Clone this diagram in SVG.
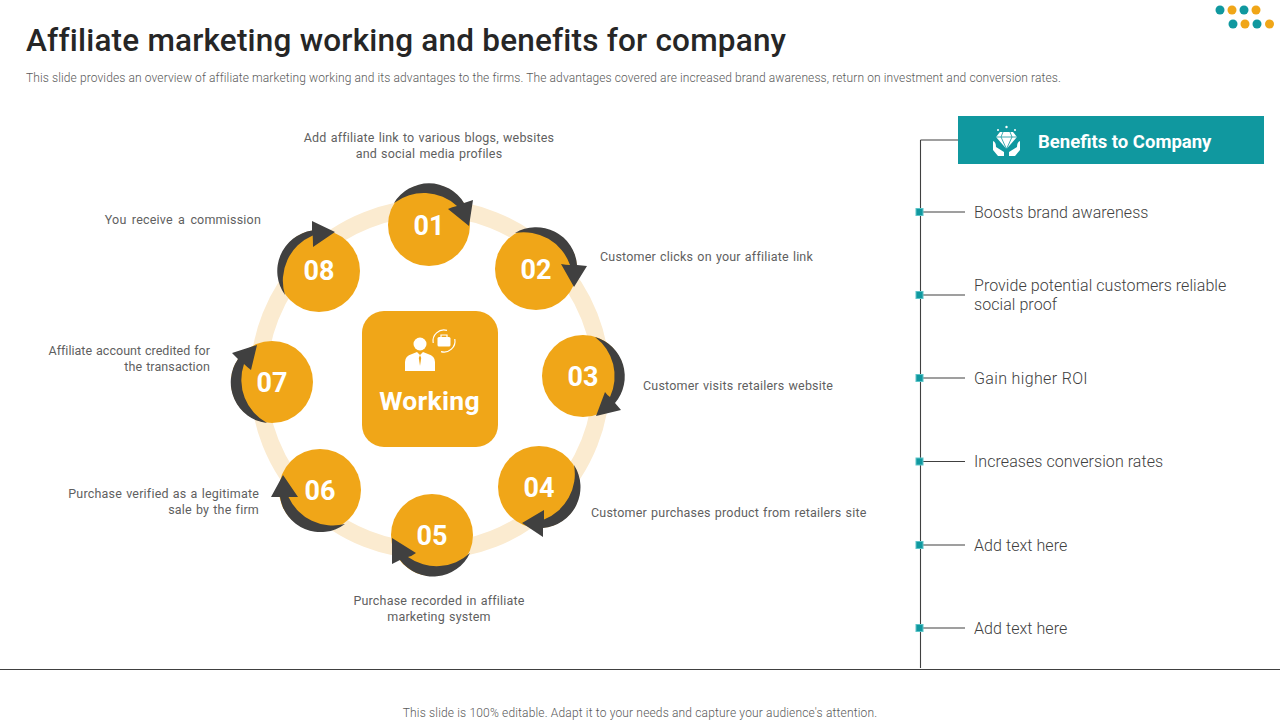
<svg xmlns="http://www.w3.org/2000/svg" width="1280" height="720" viewBox="0 0 1280 720">
<style>
text{font-family:Roboto,"Liberation Sans",sans-serif}
.t{font-size:12.5px;fill:#5f5f5f;letter-spacing:.2px;word-spacing:.8px}
.m{text-anchor:middle}.e{text-anchor:end}
.b{font-size:16px;font-weight:300;fill:#404040;letter-spacing:.06px}
.n{font-size:27px;font-weight:700;fill:#fff;text-anchor:middle}
.c{fill:#F0A618}.d{fill:#404040}
.l{stroke:#404040;stroke-width:1.1;fill:none}
.s{fill:#10989F;stroke:#5CC4C8;stroke-width:1}
.w{fill:#fff}
.o{fill:none;stroke:#fff;stroke-width:1.2}
</style>
<rect width="1280" height="720" fill="#fff"/>
<text x="26" y="51" font-size="31.5" font-weight="500" fill="#262626" letter-spacing=".2" id="title">Affiliate marketing working and benefits for company</text>
<text x="26" y="82" font-size="12" font-weight="300" fill="#595959" letter-spacing=".11" id="subtitle">This slide provides an overview of affiliate marketing working and its advantages to the firms. The advantages covered are increased brand awareness, return on investment and conversion rates.</text>
<g id="logo">
<circle cx="1220" cy="10" r="4.5" fill="#10989F"/><circle cx="1232" cy="10" r="4.5" fill="#F0A618"/><circle cx="1244" cy="10" r="4.5" fill="#10989F"/><circle cx="1256" cy="10" r="4.5" fill="#F0A618"/>
<circle cx="1233" cy="24" r="4.5" fill="#10989F"/><circle cx="1245" cy="24" r="4.5" fill="#F0A618"/><circle cx="1257" cy="24" r="4.5" fill="#10989F"/><circle cx="1269.500" cy="24" r="4.5" fill="#F0A618"/>
</g>
<circle id="ring" cx="430" cy="379.500" r="171.500" fill="none" stroke="#FBEBD0" stroke-width="17"/>
<g id="center"><rect x="362" y="311" width="136" height="136" rx="22" class="c"/>
<circle cx="420" cy="344" r="6.5" class="w"/>
<path class="w" d="M405 371V362Q405 356 412 354L417 352L420 355L423 352L428 354Q435 356 435 362V371Z"/>
<path d="M420 355L418.800 358L420 366L421.200 358Z" class="c"/>
<rect x="437.500" y="337" width="13" height="9.500" rx="1.500" class="w"/><path d="M441 337V335H447V337" class="o"/>
<path d="M433.200 343A11 11 0 0 1 447 330.400M454.800 339A11 11 0 0 1 441 351.600" class="o"/>
<text x="429.500" y="410" font-size="26.500" font-weight="700" fill="#fff" text-anchor="middle" letter-spacing=".3">Working</text></g>
<g id="node01"><circle cx="429" cy="225" r="41" class="c"/><path class="d" d="M394 203A41 41 0 0 1 464 203L473 200L469 226L448 209Q452 207 457 206A49 49 0 0 0 394 203Z"/><text x="429" y="235" class="n">01</text></g>
<g id="node02"><circle cx="536" cy="269" r="41" class="c"/><path class="d" d="M515 233A41 41 0 0 1 577 265L587 266L574 287L561 264Q566 265 570 265A49 49 0 0 0 515 233Z"/><text x="536" y="279" class="n">02</text></g>
<g id="node03"><circle cx="583" cy="376" r="41" class="c"/><path class="d" d="M595 337A41 41 0 0 1 615 403L621 410L596 416L605 392Q607 395 610 397A49 49 0 0 0 595 337Z"/><text x="583" y="386" class="n">03</text></g>
<g id="node04"><circle cx="539" cy="487" r="41" class="c"/><path class="d" d="M574 465A41 41 0 0 1 543 528L543 537L522 523L544 510Q544 515 544 519.500A49 49 0 0 0 574 465Z"/><text x="539" y="497" class="n">04</text></g>
<g id="node05"><circle cx="432" cy="535" r="41" class="c"/><path class="d" d="M470 553A41 41 0 0 1 400 560L392 564L392 538L416 553Q412 556 408 557A49 49 0 0 0 470 553Z"/><text x="432" y="545" class="n">05</text></g>
<g id="node06"><circle cx="320" cy="490" r="41" class="c"/><path class="d" d="M345 524A41 41 0 0 1 280 497L271 497L283 475L298 497Q293 497 288.500 497A49 49 0 0 0 345 524Z"/><text x="320" y="500" class="n">06</text></g>
<g id="node07"><circle cx="272" cy="382" r="41" class="c"/><path class="d" d="M267 423A41 41 0 0 1 238 359L232 353L257 345L251 370Q247 367 244 364A49 49 0 0 0 267 423Z"/><text x="272" y="392" class="n">07</text></g>
<g id="node08"><circle cx="319" cy="271" r="41" class="c"/><path class="d" d="M285 295A41 41 0 0 1 312 230.500L312 221L335 232L313 247Q313 241 312.700 235.500A49 49 0 0 0 285 295Z"/><text x="319" y="280" class="n">08</text></g>
<g id="labels">
<text class="t m" x="429" y="142">Add affiliate link to various blogs, websites</text>
<text class="t m" x="429" y="158">and social media profiles</text>
<text class="t" x="600" y="261">Customer clicks on your affiliate link</text>
<text class="t" x="643" y="390">Customer visits retailers website</text>
<text class="t" x="591" y="517">Customer purchases product from retailers site</text>
<text class="t m" x="439" y="605">Purchase recorded in affiliate</text>
<text class="t m" x="439" y="621">marketing system</text>
<text class="t e" x="259" y="498">Purchase verified as a legitimate</text>
<text class="t e" x="259" y="514">sale by the firm</text>
<text class="t e" x="210" y="355" style="letter-spacing:.02px">Affiliate account credited for</text>
<text class="t e" x="210" y="371" style="letter-spacing:.1px">the transaction</text>
<text class="t e" x="261" y="224" style="word-spacing:2px">You receive a commission</text>
</g>
<g id="connectors">
<path class="l" d="M920.500 140V668M920.500 140H958M920 212H965M920 295H965M920 378H965M920 461.500H965M920 545H965M920 628H965"/>
<path d="M0 669.500H1280" stroke="#404040" stroke-width="1"/>
</g>
<g id="benefit-header"><rect x="958" y="116" width="306" height="48" fill="#10989F"/>
<path class="w" d="M1000 132H1013L1017 137L1006.500 149L996 137Z"/>
<path d="M996 137H1017M1003 132L1001 137L1006.500 149L1012 137L1010 132" fill="none" stroke="#10989F" stroke-width=".8"/>
<path class="w" d="M993 141Q996 142 996 147L1004 152V156H998L993 150ZM1020 141Q1017 142 1017 147L1009 152V156H1015L1020 150Z"/>
<circle cx="1006.500" cy="127" r="1.200" class="w"/><circle cx="998" cy="130" r="1" class="w"/><circle cx="1015" cy="130" r="1" class="w"/>
<text x="1038" y="148" font-size="18.500" font-weight="700" fill="#fff">Benefits to Company</text></g>
<g id="b1"><rect x="916" y="208.500" width="7" height="7" class="s"/><text class="b" x="974" y="218">Boosts brand awareness</text></g>
<g id="b2"><rect x="916" y="291.500" width="7" height="7" class="s"/><text class="b" x="974" y="291">Provide potential customers reliable</text><text class="b" x="974" y="310">social proof</text></g>
<g id="b3"><rect x="916" y="374.500" width="7" height="7" class="s"/><text class="b" x="974" y="384" style="letter-spacing:.35px">Gain higher ROI</text></g>
<g id="b4"><rect x="916" y="458" width="7" height="7" class="s"/><text class="b" x="974" y="467">Increases conversion rates</text></g>
<g id="b5"><rect x="916" y="541.500" width="7" height="7" class="s"/><text class="b" x="974" y="551">Add text here</text></g>
<g id="b6"><rect x="916" y="624.500" width="7" height="7" class="s"/><text class="b" x="974" y="634">Add text here</text></g>
<text x="640" y="717" font-size="12" font-weight="300" fill="#595959" text-anchor="middle" letter-spacing=".16" id="footer">This slide is 100% editable. Adapt it to your needs and capture your audience's attention.</text>
</svg>
